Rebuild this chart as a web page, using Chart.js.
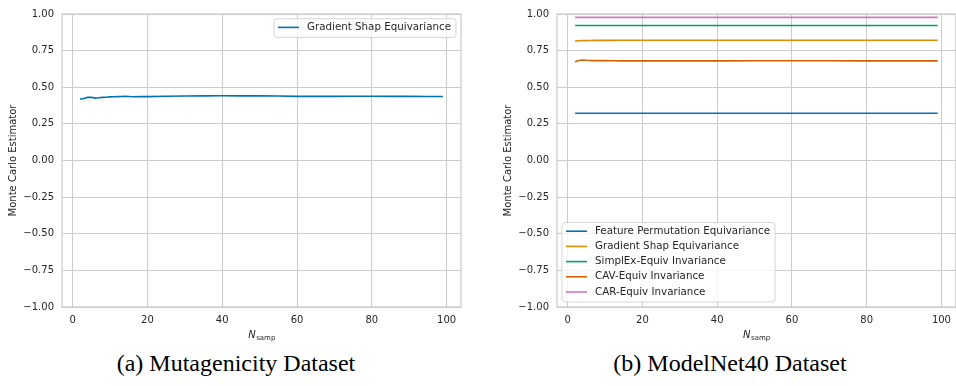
<!DOCTYPE html>
<html>
<head>
<meta charset="utf-8">
<script src="https://cdn.jsdelivr.net/npm/chart.js@4.4.1/dist/chart.umd.min.js"></script>
<style>
  html, body { margin: 0; padding: 0; background: #fff; overflow: hidden; }
  body { width: 956px; height: 386px; position: relative; }
  .panel { position: absolute; top: 0; height: 345px; width: 478px; }
  #leftPanel { left: 0; }
  #rightPanel { left: 480px; }
  .caption {
    position: absolute; top: 350px; width: 320px; text-align: center;
    font-family: "Liberation Serif", "Times New Roman", serif; font-size: 24px;
    color: #000; white-space: nowrap;
  }
</style>
</head>
<body>
<div class="panel" id="leftPanel"><canvas id="mutagChart"></canvas></div>
<div class="panel" id="rightPanel"><canvas id="modelnetChart"></canvas></div>
<div class="caption" style="left:76px">(a) Mutagenicity Dataset</div>
<div class="caption" style="left:570px">(b) ModelNet40 Dataset</div>

<script>
// --- DATA ---
const xTicks = [0, 20, 40, 60, 80, 100];
const yTicks = [-1, -0.75, -0.5, -0.25, 0, 0.25, 0.5, 0.75, 1];

// (a) Mutagenicity
const mutagN = [2, 3, 4, 5, 6, 7, 8, 9, 10, 11, 12, 13, 14, 15, 16, 18, 20, 25, 30, 35, 40, 45, 50, 55, 60, 65, 70, 75, 80, 85, 90, 95, 99];
const mutagGradShap = [0.420, 0.423, 0.431, 0.432, 0.426, 0.428, 0.431, 0.432, 0.434, 0.435, 0.436, 0.437, 0.439, 0.437, 0.435, 0.436, 0.436, 0.439, 0.440, 0.441, 0.442, 0.441, 0.442, 0.440, 0.438, 0.438, 0.438, 0.439, 0.439, 0.438, 0.438, 0.437, 0.437];
const mutagBandN = [2, 3, 4, 5, 6, 7, 8, 9, 10];
const mutagBandHigh = [0.428, 0.430, 0.436, 0.436, 0.430, 0.431, 0.434, 0.434, 0.436];
const mutagBandLow = [0.412, 0.416, 0.426, 0.428, 0.422, 0.425, 0.428, 0.430, 0.432];

// (b) ModelNet40
const modelN = [2, 3, 4, 5, 6, 7, 8, 10, 12, 15, 20, 30, 40, 50, 60, 70, 80, 90, 99];
const featPerm = [0.323, 0.323, 0.323, 0.323, 0.323, 0.323, 0.323, 0.323, 0.323, 0.323, 0.323, 0.323, 0.323, 0.323, 0.323, 0.323, 0.323, 0.323, 0.323];
const gradShap = [0.815, 0.817, 0.818, 0.818, 0.819, 0.820, 0.820, 0.820, 0.820, 0.821, 0.821, 0.821, 0.821, 0.821, 0.821, 0.821, 0.821, 0.821, 0.821];
const simplex = [0.921, 0.921, 0.921, 0.921, 0.921, 0.921, 0.921, 0.921, 0.921, 0.921, 0.921, 0.921, 0.921, 0.921, 0.921, 0.921, 0.921, 0.921, 0.921];
const cav = [0.672, 0.683, 0.686, 0.684, 0.683, 0.682, 0.682, 0.683, 0.681, 0.680, 0.680, 0.680, 0.680, 0.681, 0.681, 0.681, 0.680, 0.680, 0.680];
const car = [0.977, 0.977, 0.977, 0.977, 0.977, 0.977, 0.977, 0.977, 0.977, 0.977, 0.977, 0.977, 0.977, 0.977, 0.977, 0.977, 0.977, 0.977, 0.977];

// seaborn "colorblind"
const BLUE = "#0173b2", ORANGE = "#de8f05", GREEN = "#029e73", RED = "#d55e00", PINK = "#cc78bc";
const TEXT = "#262626";
const GRID = "#cccccc";
const FONT = "DejaVu Sans";

const toPts = (xs, ys) => xs.map((x, i) => ({ x: x, y: ys[i] }));

function line(label, xs, ys, color) {
  return {
    label: label, data: toPts(xs, ys),
    borderColor: color, backgroundColor: color,
    borderWidth: 1.6, pointRadius: 0, tension: 0, fill: false,
  };
}

// frame, legend box and N_samp label (matplotlib-ish)
const panelDecor = {
  id: "panelDecor",
  afterDatasetsDraw(chart, args, opts) {
    const ctx = chart.ctx;
    const a = chart.chartArea;
    ctx.save();

    ctx.strokeStyle = GRID;
    ctx.lineWidth = 1.25;
    ctx.strokeRect(a.left, a.top, a.right - a.left, a.bottom - a.top);

    // x label: italic N with subscript
    ctx.fillStyle = TEXT;
    ctx.textBaseline = "alphabetic";
    ctx.font = "italic 10px " + FONT;
    const wN = ctx.measureText("N").width;
    ctx.font = "7px " + FONT;
    const wS = ctx.measureText("samp").width;
    const cx = (a.left + a.right) / 2;
    const x0 = cx - (wN + wS) / 2;
    ctx.font = "italic 10px " + FONT;
    ctx.fillText("N", x0, 338);
    ctx.font = "7px " + FONT;
    ctx.fillText("samp", x0 + wN + 0.5, 340);

    // legend
    const items = chart.data.datasets.filter(d => !d.isBand);
    ctx.font = "10.3px " + FONT;
    const textW = Math.max(...items.map(d => ctx.measureText(d.label).width));
    const rowH = 15.2;
    const boxW = 4 + 21 + 8 + textW + 5;
    const boxH = items.length * rowH + 3.5;
    let bx, by;
    if (opts.corner === "upper right") {
      bx = a.right - 5 - boxW;
      by = a.top + 4.7;
    } else {
      bx = a.left + 5;
      by = a.bottom - 5 - boxH;
    }
    ctx.beginPath();
    const r = 3;
    ctx.moveTo(bx + r, by);
    ctx.lineTo(bx + boxW - r, by);
    ctx.arcTo(bx + boxW, by, bx + boxW, by + r, r);
    ctx.lineTo(bx + boxW, by + boxH - r);
    ctx.arcTo(bx + boxW, by + boxH, bx + boxW - r, by + boxH, r);
    ctx.lineTo(bx + r, by + boxH);
    ctx.arcTo(bx, by + boxH, bx, by + boxH - r, r);
    ctx.lineTo(bx, by + r);
    ctx.arcTo(bx, by, bx + r, by, r);
    ctx.closePath();
    ctx.fillStyle = "rgba(255,255,255,0.8)";
    ctx.fill();
    ctx.strokeStyle = "rgba(204,204,204,0.8)";
    ctx.lineWidth = 1;
    ctx.stroke();

    ctx.textBaseline = "middle";
    items.forEach((d, i) => {
      const yy = by + 8.7 + i * rowH;
      ctx.strokeStyle = d.borderColor;
      ctx.lineWidth = 1.6;
      ctx.beginPath();
      ctx.moveTo(bx + 4, yy);
      ctx.lineTo(bx + 25, yy);
      ctx.stroke();
      ctx.fillStyle = TEXT;
      ctx.fillText(d.label, bx + 33, yy);
    });
    ctx.restore();
  },
};

function fmtY(v) {
  const s = Math.abs(v).toFixed(2);
  return v < 0 ? "\u2212" + s : s;
}

function makeOptions(yAxisWidth, titlePad, padRight, corner) {
  return {
    responsive: true,
    maintainAspectRatio: false,
    animation: false,
    layout: { padding: { top: 13, right: padRight, bottom: 0, left: 0 } },
    plugins: {
      legend: { display: false },
      tooltip: { enabled: false },
      panelDecor: { corner: corner },
    },
    scales: {
      x: {
        type: "linear",
        min: -2.85,
        max: 103.85,
        afterBuildTicks: (s) => { s.ticks = xTicks.map(v => ({ value: v })); },
        afterFit: (s) => { s.height = 38; },
        ticks: { padding: 7, color: TEXT, font: { family: FONT, size: 10 } },
        grid: { color: GRID, lineWidth: 1, drawTicks: false },
        border: { display: false },
      },
      y: {
        min: -1,
        max: 1,
        afterBuildTicks: (s) => { s.ticks = yTicks.map(v => ({ value: v })); },
        afterFit: (s) => { s.width = yAxisWidth; },
        ticks: { padding: 8, color: TEXT, font: { family: FONT, size: 10 }, callback: (v) => fmtY(v) },
        grid: { color: GRID, lineWidth: 1, drawTicks: false },
        border: { display: false },
        title: {
          display: true, text: "Monte Carlo Estimator", color: TEXT,
          font: { family: FONT, size: 10 }, padding: { top: titlePad, bottom: 0 },
        },
      },
    },
  };
}

// (a) Mutagenicity chart
const mainA = line("Gradient Shap Equivariance", mutagN, mutagGradShap, BLUE);
const bandHigh = {
  label: "band", isBand: true, data: toPts(mutagBandN, mutagBandHigh),
  borderWidth: 0, pointRadius: 0, tension: 0,
  backgroundColor: "rgba(1,115,178,0.22)", fill: "+1",
};
const bandLow = {
  label: "band", isBand: true, data: toPts(mutagBandN, mutagBandLow),
  borderWidth: 0, pointRadius: 0, tension: 0, fill: false,
};
new Chart(document.getElementById("mutagChart"), {
  type: "line",
  data: { datasets: [mainA, bandHigh, bandLow] },
  options: makeOptions(62, 7, 17, "upper right"),
  plugins: [panelDecor],
});

// (b) ModelNet40 chart
new Chart(document.getElementById("modelnetChart"), {
  type: "line",
  data: {
    datasets: [
      line("Feature Permutation Equivariance", modelN, featPerm, BLUE),
      line("Gradient Shap Equivariance", modelN, gradShap, ORANGE),
      line("SimplEx-Equiv Invariance", modelN, simplex, GREEN),
      line("CAV-Equiv Invariance", modelN, cav, RED),
      line("CAR-Equiv Invariance", modelN, car, PINK),
    ],
  },
  options: makeOptions(77, 22, 1, "lower left"),
  plugins: [panelDecor],
});
</script>
</body>
</html>
